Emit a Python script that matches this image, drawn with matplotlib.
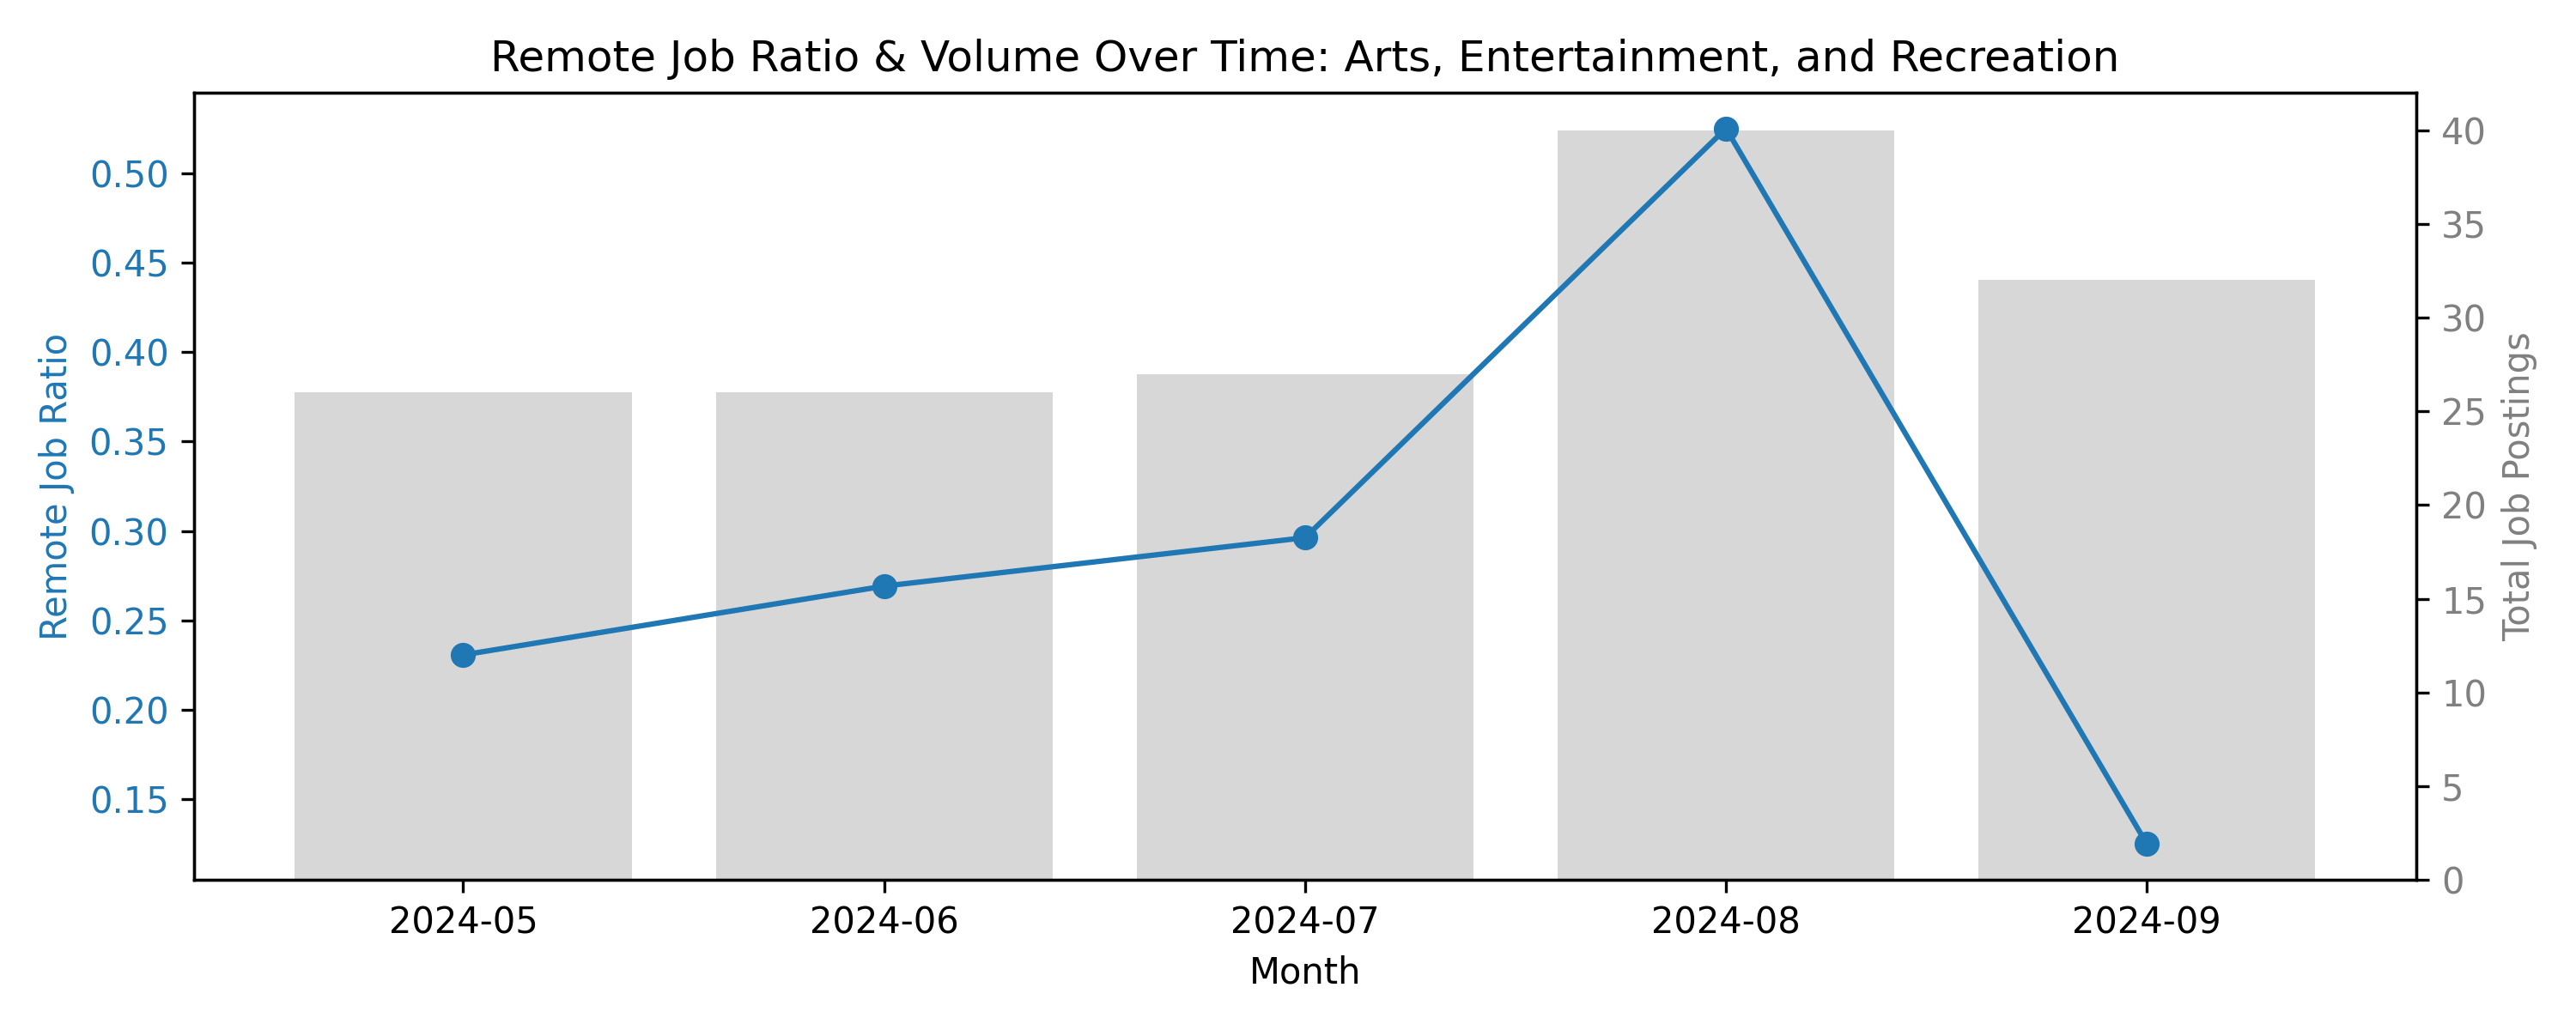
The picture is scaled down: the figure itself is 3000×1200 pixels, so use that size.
import matplotlib
matplotlib.use("Agg")
import matplotlib.pyplot as plt

# monthly data for the sector
months = ["2024-05", "2024-06", "2024-07", "2024-08", "2024-09"]
remote_ratio = [6 / 26, 7 / 26, 8 / 27, 21 / 40, 4 / 32]
total_postings = [26, 26, 27, 40, 32]

fig, ax1 = plt.subplots(figsize=(10, 4), dpi=300)
ax2 = ax1.twinx()

# bars on the right axis, behind the line
ax2.bar(months, total_postings, color="lightgray", alpha=0.9, width=0.8)
ax2.set_ylabel("Total Job Postings", color="gray")
ax2.tick_params(axis="y", labelcolor="gray")

ax1.plot(months, remote_ratio, marker="o", color="tab:blue")
ax1.set_ylabel("Remote Job Ratio", color="tab:blue")
ax1.tick_params(axis="y", labelcolor="tab:blue")
ax1.set_xlabel("Month")

# keep the line above the bars
ax1.set_zorder(ax2.get_zorder() + 1)
ax1.patch.set_visible(False)

plt.title("Remote Job Ratio & Volume Over Time: Arts, Entertainment, and Recreation")
plt.tight_layout()
plt.savefig("out.png")
